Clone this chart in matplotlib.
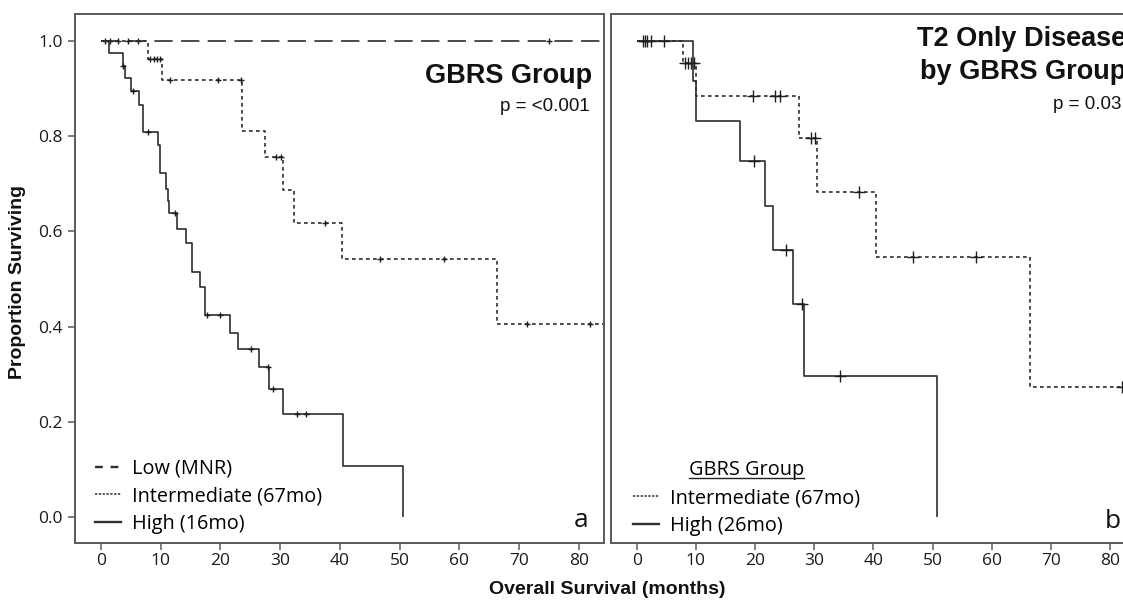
import matplotlib
matplotlib.use("Agg")
import matplotlib.pyplot as plt
from matplotlib.lines import Line2D
from matplotlib.transforms import IdentityTransform

# ---------------- data ----------------
# Panel a: all patients by GBRS group
a_low_t = [0.0]
a_low_s = [1.0]
a_low_end = 86.0
a_low_cens_t = [0.7, 1.5, 2.8, 4.5, 6.2, 75.0]

a_int_t = [0.0, 7.8, 10.2, 23.6, 27.5, 30.4, 32.3, 40.4, 66.3]
a_int_s = [1.0, 0.963, 0.918, 0.811, 0.756, 0.687, 0.618, 0.542, 0.405]
a_int_end = 86.0
a_int_cens_t = [8.2, 8.8, 9.4, 9.9, 11.6, 19.6, 23.4, 29.3, 30.1, 37.5, 46.8, 57.5, 71.3, 81.9]

a_high_t = [0.0, 1.4, 3.6, 4.0, 5.0, 6.4, 7.0, 9.5, 9.9, 10.9, 11.2, 11.4, 12.8,
            14.2, 15.2, 15.3, 16.6, 17.4, 21.6, 23.0, 26.4, 28.2, 30.4, 40.5, 50.6]
a_high_s = [1.0, 0.974, 0.947, 0.922, 0.896, 0.866, 0.809, 0.782, 0.723, 0.69, 0.664,
            0.638, 0.606, 0.576, 0.546, 0.515, 0.484, 0.424, 0.387, 0.353, 0.314,
            0.268, 0.216, 0.107, 0.0]
a_high_end = None
a_high_cens_t = [3.7, 5.4, 7.9, 12.4, 17.7, 19.9, 25.2, 28.0, 28.8, 32.9, 34.3]

# Panel b: T2 only disease by GBRS group
b_int_t = [0.0, 7.8, 10.1, 27.5, 30.4, 40.4, 66.4]
b_int_s = [1.0, 0.953, 0.884, 0.797, 0.682, 0.546, 0.272]
b_int_end = 82.0
b_int_cens_t = [8.2, 8.7, 9.2, 9.7, 19.6, 23.4, 24.2, 29.4, 30.1, 37.6, 46.7, 57.4, 81.9]

b_high_t = [0.0, 9.5, 10.1, 17.5, 21.7, 23.1, 26.4, 28.3, 50.8]
b_high_s = [1.0, 0.916, 0.832, 0.749, 0.653, 0.561, 0.447, 0.297, 0.0]
b_high_end = None
b_high_cens_t = [1.1, 1.4, 1.7, 2.4, 4.6, 19.8, 25.3, 28.0, 34.3]

x_ticks = [0, 10, 20, 30, 40, 50, 60, 70, 80]
y_ticks = [0.0, 0.2, 0.4, 0.6, 0.8, 1.0]

a_legend = ["Low (MNR)", "Intermediate (67mo)", "High (16mo)"]
b_legend = ["Intermediate (67mo)", "High (26mo)"]

# ---------------- layout helpers ----------------
W, H = 1123, 601
fig = plt.figure(figsize=(W / 100, H / 100), dpi=100)


def box(x0, x1, y0, y1):
    return [x0 / W, 1 - y1 / H, (x1 - x0) / W, (y1 - y0) / H]


def fx(x):
    return x / W


def fy(y):
    return 1 - y / H


LC = "#2e2e2e"
SC = "#5a5a5a"
TICK_FONT = "Open Sans"
BOLD_FONT = "Liberation Sans"

DOT = (0, (2.2, 2.0))
DASH = (0, (11.0, 5.0))


def surv_at(t, times, surv):
    v = surv[0]
    for ti, si in zip(times, surv):
        if ti <= t:
            v = si
    return v


def km(ax, times, surv, end, cens, ls, msize):
    tt = list(times)
    ss = list(surv)
    if end is not None:
        tt.append(end)
        ss.append(ss[-1])
    ax.step(tt, ss, where="post", color=LC, lw=1.2, linestyle=ls,
            solid_capstyle="butt", dash_capstyle="butt", clip_on=True)
    cy = [surv_at(c, times, surv) for c in cens]
    ax.plot(cens, cy, linestyle="none", marker="+", ms=msize, mew=1.0,
            color="#1e1e1e", clip_on=True)


def style_axes(ax, xlim, show_y):
    ax.set_xlim(*xlim)
    ax.set_ylim(-0.055, 1.057)
    for s in ax.spines.values():
        s.set_color(SC)
        s.set_linewidth(1.4)
    ax.set_xticks(x_ticks)
    ax.set_xticklabels([str(v) for v in x_ticks], fontfamily=TICK_FONT,
                       fontsize=12.5, color="#1a1a1a")
    ax.tick_params(axis="x", direction="out", length=5, width=1.1,
                   color=SC, pad=2)
    if show_y:
        ax.set_yticks(y_ticks)
        ax.set_yticklabels([f"{v:.1f}" for v in y_ticks], fontfamily=TICK_FONT,
                           fontsize=12.5, color="#1a1a1a")
        ax.tick_params(axis="y", direction="out", length=5, width=1.1,
                       color=SC, pad=4)
    else:
        ax.set_yticks([])


axA = fig.add_axes(box(75, 604, 14, 543))
axB = fig.add_axes(box(611, 1135, 14, 543))

style_axes(axA, (-4.36, 84.25), True)
style_axes(axB, (-4.34, 84.18), False)

# ---- panel a curves
km(axA, a_low_t, a_low_s, a_low_end, a_low_cens_t, DASH, 5)
km(axA, a_int_t, a_int_s, a_int_end, a_int_cens_t, DOT, 5)
km(axA, a_high_t, a_high_s, a_high_end, a_high_cens_t, "-", 5)

# ---- panel b curves
km(axB, b_int_t, b_int_s, b_int_end, b_int_cens_t, DOT, 9)
km(axB, b_high_t, b_high_s, b_high_end, b_high_cens_t, "-", 9)

# ---- legends
leg_font = {"family": TICK_FONT, "size": 14.3}
hA = [Line2D([], [], color=LC, lw=1.7, linestyle=(0, (3.3, 3.3))),
      Line2D([], [], color=LC, lw=1.1, linestyle=(0, (1.5, 1.0))),
      Line2D([], [], color=LC, lw=1.7, linestyle="-")]
legA = axA.legend(hA, a_legend, loc="upper left",
                  bbox_to_anchor=((95 - 75) / 529, (543 - 458.5) / 529),
                  frameon=False, prop=leg_font, handlelength=1.3,
                  handletextpad=0.58, labelspacing=0.39, borderpad=0,
                  borderaxespad=0)

hB = [Line2D([], [], color=LC, lw=1.1, linestyle=(0, (1.5, 1.0))),
      Line2D([], [], color=LC, lw=1.7, linestyle="-")]
legB = axB.legend(hB, b_legend, loc="upper left",
                  bbox_to_anchor=((633 - 611) / 524, (543 - 460.5) / 529),
                  frameon=False, prop=leg_font, handlelength=1.3,
                  handletextpad=0.58, labelspacing=0.39, borderpad=0,
                  borderaxespad=0, title="GBRS Group",
                  title_fontproperties=leg_font)

# ---- titles and annotations
fig.text(fx(592), fy(82.7), "GBRS Group", ha="right", va="baseline",
         fontfamily=BOLD_FONT, fontweight="bold", fontsize=19.5, color="#111111")
fig.text(fx(590), fy(111), "p = <0.001", ha="right", va="baseline",
         fontfamily=BOLD_FONT, fontsize=13.5, color="#111111")
fig.text(fx(916.7), fy(45.5), "T2 Only Disease", ha="left", va="baseline",
         fontfamily=BOLD_FONT, fontweight="bold", fontsize=19.5, color="#111111")
fig.text(fx(920), fy(79), "by GBRS Group", ha="left", va="baseline",
         fontfamily=BOLD_FONT, fontweight="bold", fontsize=19.5, color="#111111")
fig.text(fx(1053.3), fy(108.5), "p = 0.03", ha="left", va="baseline",
         fontfamily=BOLD_FONT, fontsize=13.5, color="#111111")

fig.text(fx(573.5), fy(527), "a", ha="left", va="baseline",
         fontfamily=TICK_FONT, fontsize=19, color="#111111")
fig.text(fx(1105), fy(528), "b", ha="left", va="baseline",
         fontfamily=TICK_FONT, fontsize=19, color="#111111")

fig.text(fx(607), fy(590), "Overall Survival (months)", ha="center", va="center",
         fontfamily=BOLD_FONT, fontweight="bold", fontsize=14, color="#111111")
fig.text(fx(18), fy(282), "Proportion Surviving", ha="center", va="center",
         rotation=90, fontfamily=BOLD_FONT, fontweight="bold", fontsize=14,
         color="#111111")

# underline for legend title
fig.canvas.draw()
t = legB.get_title()
bb = t.get_window_extent(renderer=fig.canvas.get_renderer())
fig.add_artist(Line2D([bb.x0, bb.x1], [bb.y0 + 3, bb.y0 + 3],
                      transform=IdentityTransform(), color="#222222", lw=1.0))

fig.savefig("out.png", dpi=100)
